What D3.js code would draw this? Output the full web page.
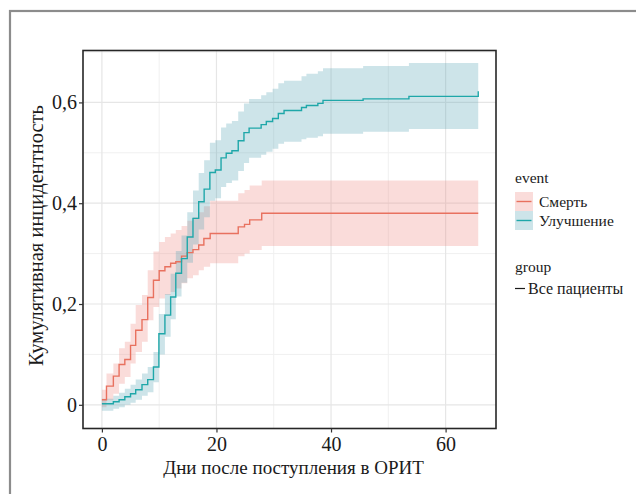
<!DOCTYPE html>
<html>
<head>
<meta charset="utf-8">
<script src="https://cdn.jsdelivr.net/npm/d3@7"></script>
<style>
body{margin:0;background:#fff;}
svg text{font-family:"Liberation Serif","DejaVu Serif","Times New Roman",Times,serif;fill:#1a1a1a;}
</style>
</head>
<body>
<div id="g-container"></div>
<script>

	var deathTime = [0, 0.8, 2, 3, 4, 5, 5.9, 7, 8, 9, 10, 11, 12, 12.9, 13.9, 14.9, 15.9, 16.9, 17.8, 18.9, 23.8, 24.9, 25.8, 27.9, 65.7];
	var deathEst = [0.010, 0.037, 0.057, 0.080, 0.090, 0.118, 0.148, 0.169, 0.213, 0.247, 0.266, 0.274, 0.281, 0.284, 0.295, 0.302, 0.308, 0.317, 0.330, 0.340, 0.353, 0.358, 0.367, 0.380, 0.380];
	var deathLo = [-0.005, 0.009, 0.022, 0.042, 0.055, 0.082, 0.105, 0.125, 0.168, 0.194, 0.211, 0.218, 0.224, 0.231, 0.241, 0.251, 0.257, 0.267, 0.274, 0.281, 0.295, 0.300, 0.307, 0.315, 0.315];
	var deathHi = [0.030, 0.062, 0.082, 0.112, 0.125, 0.161, 0.198, 0.218, 0.267, 0.304, 0.323, 0.333, 0.340, 0.347, 0.355, 0.365, 0.372, 0.382, 0.394, 0.405, 0.420, 0.426, 0.435, 0.445, 0.445];

	var impTime = [0, 2, 3, 4, 5, 5.9, 7, 8, 9, 9.95, 11, 12, 12.9, 13.9, 14.9, 15.9, 16.9, 17.85, 18.85, 19.8, 20.8, 21.7, 22.7, 23.8, 24.8, 25.7, 27.8, 28.7, 29.8, 30.8, 31.8, 34.85, 35.7, 37.7, 38.6, 45.6, 53.6, 65.7];
	var impEst = [0.002, 0.006, 0.010, 0.016, 0.022, 0.030, 0.040, 0.050, 0.075, 0.141, 0.178, 0.214, 0.261, 0.290, 0.333, 0.370, 0.403, 0.428, 0.461, 0.466, 0.490, 0.499, 0.504, 0.524, 0.540, 0.549, 0.556, 0.562, 0.568, 0.578, 0.584, 0.590, 0.594, 0.598, 0.604, 0.607, 0.612, 0.622];
	var impLo = [-0.012, -0.008, -0.005, 0.000, 0.004, 0.010, 0.018, 0.025, 0.045, 0.100, 0.135, 0.170, 0.215, 0.242, 0.282, 0.318, 0.348, 0.372, 0.405, 0.410, 0.432, 0.440, 0.445, 0.464, 0.480, 0.490, 0.496, 0.502, 0.508, 0.518, 0.522, 0.527, 0.530, 0.533, 0.538, 0.542, 0.547, 0.547];
	var impHi = [0.012, 0.018, 0.024, 0.032, 0.040, 0.050, 0.062, 0.075, 0.105, 0.180, 0.220, 0.260, 0.305, 0.336, 0.382, 0.425, 0.460, 0.485, 0.520, 0.525, 0.550, 0.558, 0.563, 0.582, 0.598, 0.607, 0.614, 0.620, 0.627, 0.638, 0.643, 0.652, 0.657, 0.662, 0.668, 0.672, 0.678, 0.678];

	var xTicks = [0, 20, 40, 60];
	var xMinor = [10, 30, 50];
	var yTicks = [0, 0.2, 0.4, 0.6];
	var yMinor = [0.1, 0.3, 0.5, 0.7];

	var events = ["Смерть", "Улучшение"];
	var groups = ["Все пациенты"];

	var lineColors = ["#e8715f", "#1fa7a9"];
	var bandColors = ["#ee8a84", "#58a5b6"];

	var serif = "'Liberation Serif', 'DejaVu Serif', 'Times New Roman', Times, serif";

	var panel = {left: 83, top: 50.5, right: 496, bottom: 428.5};

	var svg = d3.select("#g-container").append("svg")
		.attr("width", 636)
		.attr("height", 494)
		.attr("font-family", serif)

	// outer frame of the figure (runs off the picture on the right and bottom)
	svg.append("rect")
		.attr("x", 10).attr("y", 11)
		.attr("width", 700).attr("height", 600)
		.attr("fill", "none")
		.attr("stroke", "#8c8c8c")
		.attr("stroke-width", 2.2)

	var x = d3.scaleLinear().domain([-3.3, 68.8]).range([panel.left, panel.right]);
	var y = d3.scaleLinear().domain([-0.047, 0.703]).range([panel.bottom, panel.top]);

	svg.append("defs").append("clipPath").attr("id", "clip")
		.append("rect")
		.attr("x", panel.left).attr("y", panel.top)
		.attr("width", panel.right - panel.left).attr("height", panel.bottom - panel.top)

	var grid = svg.append("g").attr("class", "grid")

	grid.selectAll("line.vminor").data(xMinor).enter().append("line")
		.attr("x1", function(d){ return x(d); }).attr("x2", function(d){ return x(d); })
		.attr("y1", panel.top).attr("y2", panel.bottom)
		.attr("stroke", "#f0f0f0").attr("stroke-width", 1)
	grid.selectAll("line.hminor").data(yMinor).enter().append("line")
		.attr("y1", function(d){ return y(d); }).attr("y2", function(d){ return y(d); })
		.attr("x1", panel.left).attr("x2", panel.right)
		.attr("stroke", "#f0f0f0").attr("stroke-width", 1)
	grid.selectAll("line.vmajor").data(xTicks).enter().append("line")
		.attr("x1", function(d){ return x(d); }).attr("x2", function(d){ return x(d); })
		.attr("y1", panel.top).attr("y2", panel.bottom)
		.attr("stroke", "#e6e6e6").attr("stroke-width", 1.2)
	grid.selectAll("line.hmajor").data(yTicks).enter().append("line")
		.attr("y1", function(d){ return y(d); }).attr("y2", function(d){ return y(d); })
		.attr("x1", panel.left).attr("x2", panel.right)
		.attr("stroke", "#e6e6e6").attr("stroke-width", 1.2)

	function rows(t, est, lo, hi){
		return t.map(function(d, i){
			return {t: d, est: est[i], lo: lo[i], hi: hi[i]};
		});
	}

	var series = [
		rows(deathTime, deathEst, deathLo, deathHi),
		rows(impTime, impEst, impLo, impHi)
	];

	var area = d3.area()
		.curve(d3.curveStepAfter)
		.x(function(d){ return x(d.t); })
		.y0(function(d){ return y(d.lo); })
		.y1(function(d){ return y(d.hi); })

	var line = d3.line()
		.curve(d3.curveStepAfter)
		.x(function(d){ return x(d.t); })
		.y(function(d){ return y(d.est); })

	var plot = svg.append("g").attr("clip-path", "url(#clip)")

	plot.selectAll("path.band").data(series).enter().append("path")
		.attr("class", "band")
		.attr("d", area)
		.attr("fill", function(d, i){ return bandColors[i]; })
		.attr("fill-opacity", 0.3)

	plot.selectAll("path.est").data(series).enter().append("path")
		.attr("class", "est")
		.attr("d", line)
		.attr("fill", "none")
		.attr("stroke", function(d, i){ return lineColors[i]; })
		.attr("stroke-width", 1.4)

	svg.append("rect")
		.attr("x", panel.left).attr("y", panel.top)
		.attr("width", panel.right - panel.left).attr("height", panel.bottom - panel.top)
		.attr("fill", "none")
		.attr("stroke", "#262626")
		.attr("stroke-width", 1.6)

	var fmt = function(d){ return d === 0 ? "0" : String(d).replace(".", ","); };

	var xAxis = svg.append("g")
		.attr("transform", "translate(0," + panel.bottom + ")")
		.call(d3.axisBottom(x).tickValues(xTicks).tickSize(4).tickPadding(4).tickFormat(fmt))
	var yAxis = svg.append("g")
		.attr("transform", "translate(" + panel.left + ",0)")
		.call(d3.axisLeft(y).tickValues(yTicks).tickSize(4).tickPadding(2).tickFormat(fmt))

	;[xAxis, yAxis].forEach(function(a){
		a.attr("font-family", serif);
		a.select(".domain").remove();
		a.selectAll(".tick line").attr("stroke", "#333").attr("stroke-width", 1.2);
		a.selectAll(".tick text").style("font-family", serif).style("font-size", "20px").attr("fill", "#1a1a1a");
	})

	svg.append("text")
		.attr("x", (panel.left + panel.right) / 2 + 4)
		.attr("y", 474)
		.style("font-family", serif)
		.style("text-anchor", "middle")
		.style("font-size", "19px")
		.text("Дни после поступления в ОРИТ")

	svg.append("text")
		.attr("transform", "translate(43," + ((panel.top + panel.bottom) / 2 - 4) + ") rotate(-90)")
		.style("font-family", serif)
		.style("text-anchor", "middle")
		.style("font-size", "20.5px")
		.text("Кумулятивная инцидентность")

	// legend
	var legend = svg.append("g").attr("transform", "translate(515,0)").style("font-family", serif)

	legend.append("text").attr("x", 0).attr("y", 183).style("font-size", "15.5px").text("event")

	var keys = legend.selectAll("g.key").data(events).enter().append("g")
		.attr("class", "key")
		.attr("transform", function(d, i){ return "translate(0," + (192 + i * 19) + ")"; })

	keys.append("rect")
		.attr("width", 18).attr("height", 19)
		.attr("fill", function(d, i){ return bandColors[i]; })
		.attr("fill-opacity", 0.3)
	keys.append("line")
		.attr("x1", 1.5).attr("x2", 16.5)
		.attr("y1", 9.5).attr("y2", 9.5)
		.attr("stroke", function(d, i){ return lineColors[i]; })
		.attr("stroke-width", 1.4)
	keys.append("text")
		.attr("x", 24).attr("y", 15)
		.style("font-size", "15.5px")
		.text(function(d){ return d; })

	legend.append("text").attr("x", 0).attr("y", 272).style("font-size", "15.5px").text("group")

	var gkeys = legend.selectAll("g.gkey").data(groups).enter().append("g")
		.attr("class", "gkey")
		.attr("transform", function(d, i){ return "translate(0," + (280 + i * 19) + ")"; })
	gkeys.append("line")
		.attr("x1", 0).attr("x2", 10)
		.attr("y1", 8.5).attr("y2", 8.5)
		.attr("stroke", "#1a1a1a").attr("stroke-width", 1.2)
	gkeys.append("text")
		.attr("x", 13).attr("y", 13.5)
		.style("font-size", "16px")
		.text(function(d){ return d; })

</script>
</body>
</html>
